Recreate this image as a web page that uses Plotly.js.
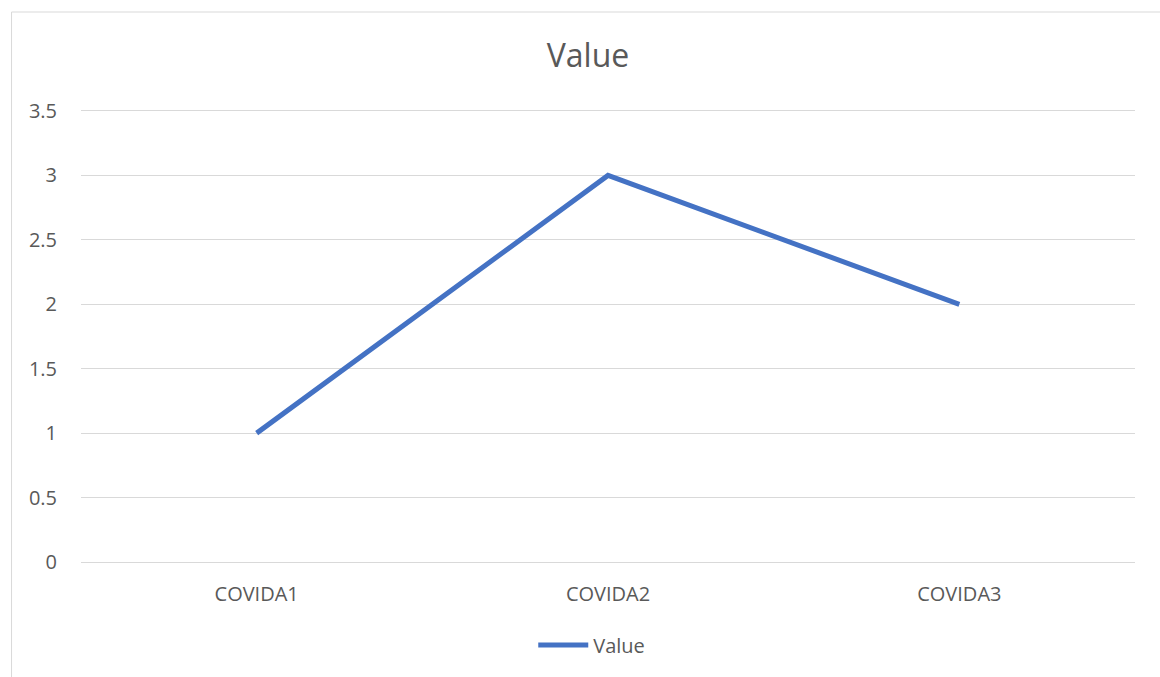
<!DOCTYPE html>
<html>
<head>
<meta charset="utf-8">
<script src="https://cdn.plot.ly/plotly-3.0.1.min.js"></script>
<style>
html,body{margin:0;padding:0;background:#fff;}
#chart{width:1160px;height:677px;}
</style>
</head>
<body>
<div id="chart"></div>
<script>
var categories = ["COVIDA1", "COVIDA2", "COVIDA3"];
var values = [1, 3, 2];
var seriesName = "Value";
var chartTitle = "Value";

var W = 1160, H = 677;
var mL = 81, mR = 24.5, mT = 111, mB = 115;

var trace = {
  x: categories,
  y: values,
  type: "scatter",
  mode: "lines",
  name: seriesName,
  line: {color: "#4472C4", width: 5}
};

var font = {family: "Open Sans, Liberation Sans, sans-serif", color: "#595959", size: 20};

var layout = {
  width: W, height: H,
  margin: {l: mL, r: mR, t: mT, b: mB},
  paper_bgcolor: "#fff",
  plot_bgcolor: "#fff",
  font: font,
  title: {
    text: chartTitle,
    font: {family: "Open Sans, Liberation Sans, sans-serif", size: 32, color: "#595959"},
    x: 588 / W, xanchor: "center",
    y: 1 - 56 / H, yanchor: "middle",
    xref: "container", yref: "container"
  },
  xaxis: {
    type: "category",
    range: [-0.5, 2.5],
    showgrid: false,
    zeroline: false,
    showline: true,
    mirror: true,
    linecolor: "#D9D9D9",
    linewidth: 1,
    ticks: "outside",
    ticklen: 14,
    tickcolor: "rgba(0,0,0,0)",
    tickfont: font,
    fixedrange: true
  },
  yaxis: {
    range: [0, 3.5],
    dtick: 0.5,
    tick0: 0,
    showgrid: true,
    gridcolor: "#D9D9D9",
    gridwidth: 1,
    zeroline: false,
    showline: false,
    ticks: "outside",
    ticklen: 19,
    tickcolor: "rgba(0,0,0,0)",
    tickfont: font,
    fixedrange: true
  },
  showlegend: true,
  legend: {
    orientation: "h",
    x: 0.5 + (592 - (mL + (W - mL - mR) / 2)) / (W - mL - mR),
    xanchor: "center",
    y: -(645 - (H - mB)) / (H - mT - mB),
    yanchor: "middle",
    font: font,
    itemwidth: 50,
    bgcolor: "rgba(0,0,0,0)"
  },
  shapes: [{
    type: "rect",
    xref: "paper", yref: "paper",
    x0: (11.5 - mL) / (W - mL - mR),
    x1: (W + 10 - mL) / (W - mL - mR),
    y0: -(H + 10 - (H - mB)) / (H - mT - mB),
    y1: 1 + (mT - 12) / (H - mT - mB),
    line: {color: "#D9D9D9", width: 1},
    fillcolor: "rgba(0,0,0,0)",
    layer: "below"
  }]
};

Plotly.newPlot("chart", [trace], layout, {displayModeBar: false, staticPlot: true});
</script>
</body>
</html>
